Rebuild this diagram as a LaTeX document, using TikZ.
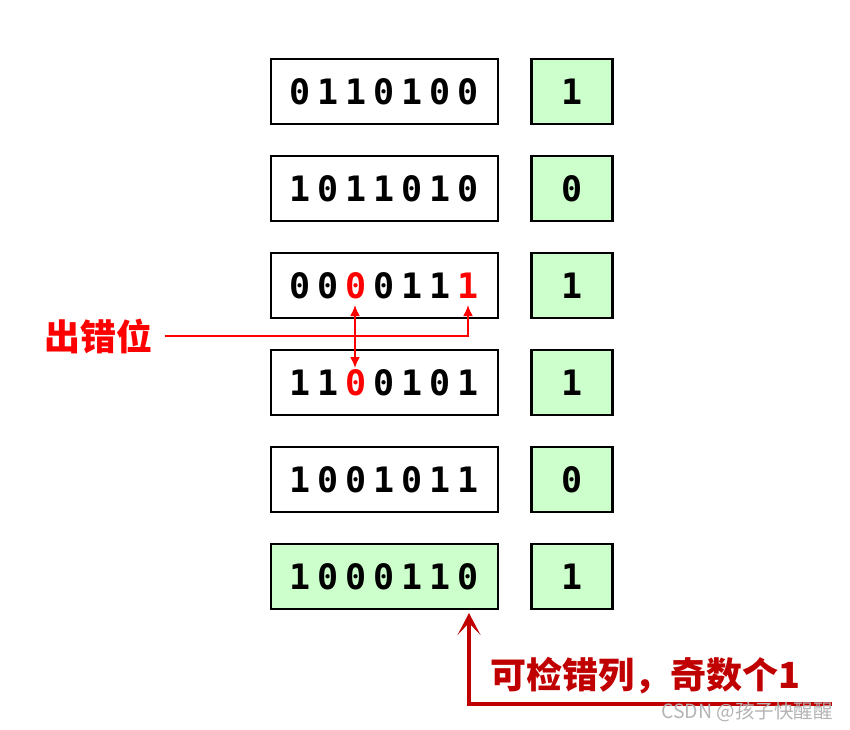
\documentclass[tikz,border=0pt]{standalone}
\usepackage{fontspec}
\setmonofont{DejaVu Sans Mono}
\newfontfamily\cjk{Noto Sans CJK SC}
\usetikzlibrary{positioning,calc,arrows.meta}
\definecolor{cellgreen}{HTML}{CCFFCC}
\definecolor{darkred}{HTML}{C00000}
\definecolor{markgray}{HTML}{B4B4B4}

% spread the bits of a word, 28pt per bit
\makeatletter
\newcommand\spreadbits[1]{\@tfor\bitc:=#1\do{\makebox[28pt]{\bitc}}}
\makeatother
\newcommand\rb{\color{red}}

\tikzset{
  word/.style={draw, line width=2.4pt, minimum width=227pt, minimum height=65pt,
    inner sep=0pt, font=\ttfamily\bfseries\fontsize{35}{35}\selectfont},
  parity/.style={word, minimum width=81pt, fill=cellgreen},
  errline/.style={red, line width=2pt, -{Latex[length=11pt,width=10pt]}},
  colline/.style={darkred, line width=4pt, -{Stealth[length=22pt,width=23pt,inset=12pt]}},
  note/.style={inner sep=0pt, font=\cjk\bfseries\fontsize{36}{36}\selectfont}
}

\begin{document}
\begin{tikzpicture}[x=1pt, y=-1pt]
\useasboundingbox (0,0) rectangle (850,729);

% Data words and their parity bits
\foreach \i/\bits/\pbit/\col in {1/0110100/1/white,
    2/1011010/0/white,
    3/{00{\rb 0}011{\rb 1}}/1/white,
    4/{11{\rb 0}0101}/1/white,
    5/1001011/0/white,
    6/1000110/1/cellgreen}{
  \node[word, fill=\col] (w\i) at (384.5, {91.5+97*(\i-1)})
    {\expandafter\spreadbits\expandafter{\bits}};
  \node[parity, right=31pt of w\i] (p\i) {\pbit};
}

% Error bits
\node[note, text=red] (err) at (98.5,336) {出错位};
\coordinate (bitA) at (355,305);
\coordinate (bitB) at (468,305);
\coordinate (bitC) at (355,368);
\draw[errline, shorten <=12pt] (err.east) -| (bitB);
\draw[errline, {Latex[length=11pt,width=10pt]}-{Latex[length=11pt,width=10pt]}] (bitA) -- (bitC);

% Parity column
\node[note, text=darkred] (col) at (645,676) {可检错列，奇数个1};
\coordinate (colA) at (469,613);
\coordinate (colB) at (832,704);
\draw[colline] (colB) -| (colA);

\node[inner sep=0pt, text=markgray, font=\cjk\fontsize{19.5}{19.5}\selectfont, anchor=east] (mark) at (833,712) {CSDN @孩子快醒醒};
\end{tikzpicture}
\end{document}
